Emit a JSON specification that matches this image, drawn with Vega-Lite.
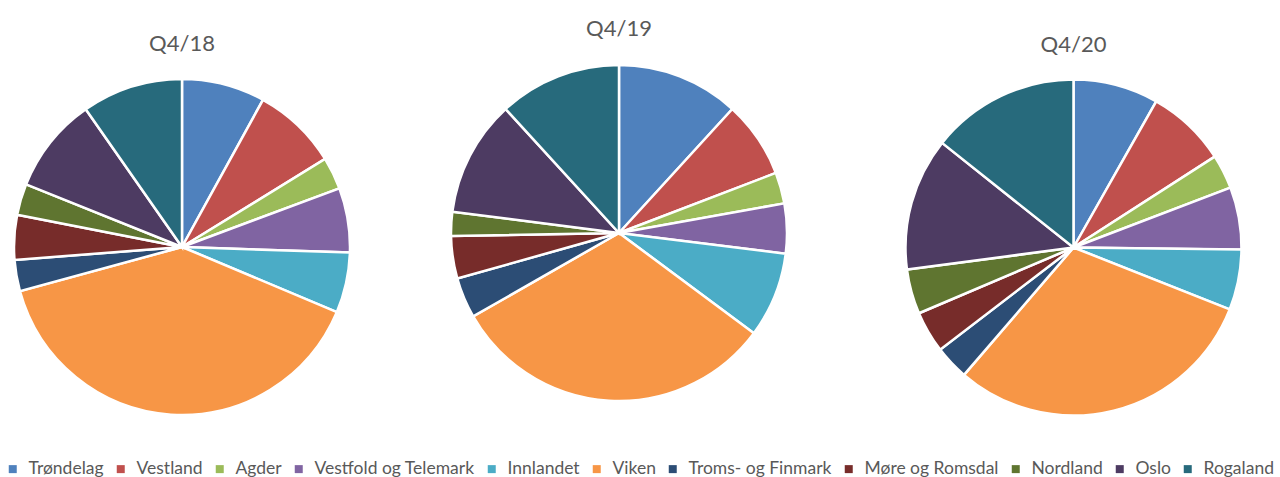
{
  "$schema": "https://vega.github.io/schema/vega-lite/v6.json",
  "padding": {"left": 4, "top": 18, "right": 0, "bottom": 0},
  "background": "white",
  "data": {"values": [
    {"q": "Q4/18", "idx": 1, "region": "Trøndelag", "value": 8.0},
    {"q": "Q4/18", "idx": 2, "region": "Vestland", "value": 8.2},
    {"q": "Q4/18", "idx": 3, "region": "Agder", "value": 3.1},
    {"q": "Q4/18", "idx": 4, "region": "Vestfold og Telemark", "value": 6.2},
    {"q": "Q4/18", "idx": 5, "region": "Innlandet", "value": 5.8},
    {"q": "Q4/18", "idx": 6, "region": "Viken", "value": 39.4},
    {"q": "Q4/18", "idx": 7, "region": "Troms- og Finmark", "value": 3.0},
    {"q": "Q4/18", "idx": 8, "region": "Møre og Romsdal", "value": 4.3},
    {"q": "Q4/18", "idx": 9, "region": "Nordland", "value": 3.0},
    {"q": "Q4/18", "idx": 10, "region": "Oslo", "value": 9.2},
    {"q": "Q4/18", "idx": 11, "region": "Rogaland", "value": 9.7},
    {"q": "Q4/19", "idx": 1, "region": "Trøndelag", "value": 11.8},
    {"q": "Q4/19", "idx": 2, "region": "Vestland", "value": 7.4},
    {"q": "Q4/19", "idx": 3, "region": "Agder", "value": 3.0},
    {"q": "Q4/19", "idx": 4, "region": "Vestfold og Telemark", "value": 4.8},
    {"q": "Q4/19", "idx": 5, "region": "Innlandet", "value": 8.2},
    {"q": "Q4/19", "idx": 6, "region": "Viken", "value": 31.6},
    {"q": "Q4/19", "idx": 7, "region": "Troms- og Finmark", "value": 3.9},
    {"q": "Q4/19", "idx": 8, "region": "Møre og Romsdal", "value": 4.1},
    {"q": "Q4/19", "idx": 9, "region": "Nordland", "value": 2.3},
    {"q": "Q4/19", "idx": 10, "region": "Oslo", "value": 11.2},
    {"q": "Q4/19", "idx": 11, "region": "Rogaland", "value": 11.8},
    {"q": "Q4/20", "idx": 1, "region": "Trøndelag", "value": 8.2},
    {"q": "Q4/20", "idx": 2, "region": "Vestland", "value": 7.7},
    {"q": "Q4/20", "idx": 3, "region": "Agder", "value": 3.3},
    {"q": "Q4/20", "idx": 4, "region": "Vestfold og Telemark", "value": 6.0},
    {"q": "Q4/20", "idx": 5, "region": "Innlandet", "value": 5.8},
    {"q": "Q4/20", "idx": 6, "region": "Viken", "value": 30.3},
    {"q": "Q4/20", "idx": 7, "region": "Troms- og Finmark", "value": 3.3},
    {"q": "Q4/20", "idx": 8, "region": "Møre og Romsdal", "value": 4.0},
    {"q": "Q4/20", "idx": 9, "region": "Nordland", "value": 4.3},
    {"q": "Q4/20", "idx": 10, "region": "Oslo", "value": 12.8},
    {"q": "Q4/20", "idx": 11, "region": "Rogaland", "value": 14.3}
  ]},
  "bounds": "flush",
  "spacing": 0,
  "hconcat": [
    {
      "title": {"text": "Q4/18", "offset": 18},
      "width": 356,
      "height": 328,
      "transform": [{"filter": "datum.q == 'Q4/18'"}],
      "mark": {"type": "arc", "outerRadius": 168, "stroke": "white", "strokeWidth": 2.5},
      "encoding": {
        "theta": {"field": "value", "type": "quantitative", "stack": true},
        "order": {"field": "idx", "type": "quantitative"},
        "color": {"field": "region", "type": "nominal"}
      }
    },
    {
      "title": {"text": "Q4/19", "offset": 19},
      "width": 518,
      "height": 300,
      "transform": [{"filter": "datum.q == 'Q4/19'"}],
      "mark": {"type": "arc", "outerRadius": 168, "stroke": "white", "strokeWidth": 2.5},
      "encoding": {
        "theta": {"field": "value", "type": "quantitative", "stack": true},
        "order": {"field": "idx", "type": "quantitative"},
        "color": {"field": "region", "type": "nominal"}
      }
    },
    {
      "title": {"text": "Q4/20", "offset": 18},
      "width": 391,
      "height": 329,
      "transform": [{"filter": "datum.q == 'Q4/20'"}],
      "mark": {"type": "arc", "outerRadius": 168, "stroke": "white", "strokeWidth": 2.5},
      "encoding": {
        "theta": {"field": "value", "type": "quantitative", "stack": true},
        "order": {"field": "idx", "type": "quantitative"},
        "color": {
          "field": "region",
          "type": "nominal",
          "scale": {
            "domain": ["Trøndelag", "Vestland", "Agder", "Vestfold og Telemark", "Innlandet", "Viken", "Troms- og Finmark", "Møre og Romsdal", "Nordland", "Oslo", "Rogaland"],
            "range": ["#4F81BD", "#C0504D", "#9BBB59", "#8064A2", "#4BACC6", "#F79646", "#2C4D75", "#772C2A", "#5F7530", "#4D3B62", "#276A7C"]
          },
          "legend": {"orient": "bottom", "direction": "horizontal", "columns": 11, "title": null}
        }
      }
    }
  ],
  "config": {
    "view": {"stroke": null},
    "title": {"font": "Lato", "fontSize": 22, "fontWeight": "normal", "color": "#595959", "baseline": "alphabetic", "anchor": "middle"},
    "legend": {
      "labelFont": "Lato",
      "labelFontSize": 17.5,
      "labelColor": "#595959",
      "symbolType": "square",
      "symbolSize": 64,
      "symbolStrokeWidth": 0,
      "labelOffset": 7,
      "columnPadding": 8,
      "padding": 0,
      "offset": 39,
      "labelLimit": 400
    }
  }
}
